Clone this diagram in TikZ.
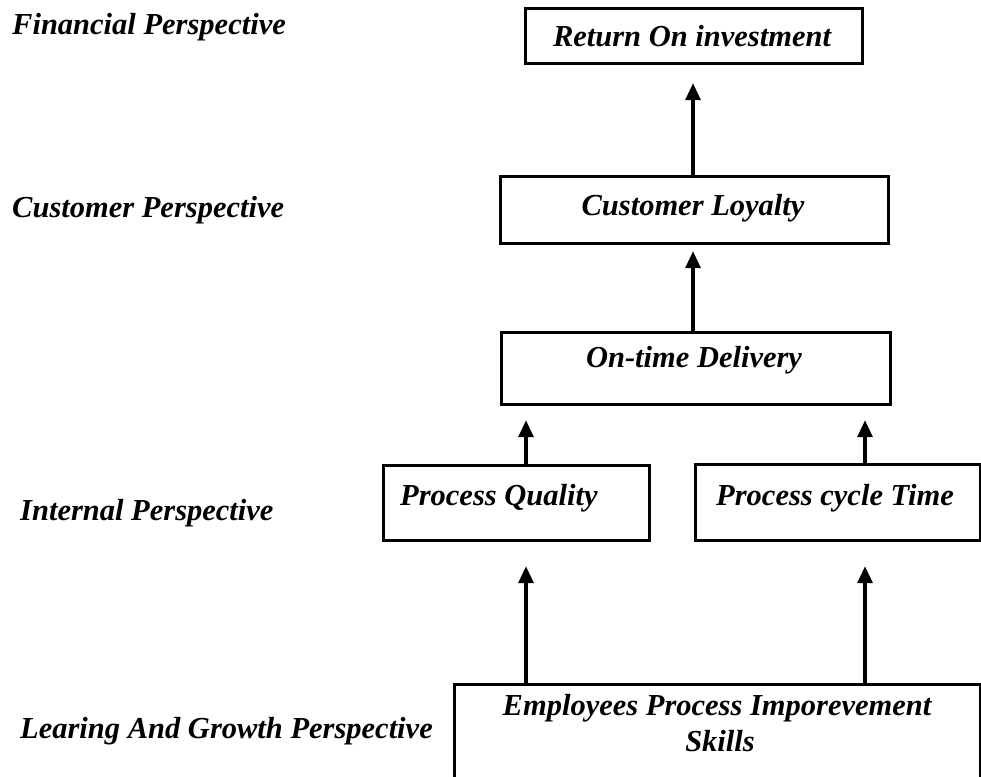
\documentclass[tikz,border=0pt]{standalone}
\usepackage{fontspec}
\setmainfont{Liberation Serif}
\usetikzlibrary{arrows.meta}

\begin{document}
\begin{tikzpicture}[x=1pt,y=-1pt,
  txt/.style={font=\fontsize{30.5}{36}\selectfont\bfseries\itshape, inner sep=0pt},
  box/.style={draw, line width=3.2pt, rectangle, inner sep=0pt, anchor=north west},
  arr/.style={line width=3.2pt, -{Triangle[length=17pt,width=15pt]}}]
  \useasboundingbox (0,0) rectangle (981,776);

  % perspective labels on the left
  \node[txt, anchor=base west] (lfin)  at (12,35)  {Financial Perspective};
  \node[txt, anchor=base west] (lcus)  at (12,217) {Customer Perspective};
  \node[txt, anchor=base west] (lint)  at (20,520) {Internal Perspective};
  \node[txt, anchor=base west] (llrn)  at (20,738) {Learing And Growth Perspective};

  % boxes
  \node[box, minimum width=337, minimum height=55] (roi) at (524,7)   {};
  \node[box, minimum width=388, minimum height=67] (cl)  at (499,175) {};
  \node[box, minimum width=389, minimum height=72] (od)  at (500,331) {};
  \node[box, minimum width=266, minimum height=75] (pq)  at (382,464) {};
  \node[box, minimum width=285, minimum height=76] (pct) at (694,463) {};
  \node[box, minimum width=526, minimum height=110] (emp) at (453,683) {};

  % box texts
  \node[txt, anchor=base] (troi) at (692,47)  {Return On investment};
  \node[txt, anchor=base] (tcl)  at (693,215) {Customer Loyalty};
  \node[txt, anchor=base] (tod)  at (694,367) {On-time Delivery};
  \node[txt, anchor=base west] (tpq)  at (400,505) {Process Quality};
  \node[txt, anchor=base west] (tpct) at (716,505) {Process cycle Time};
  \node[txt, anchor=base] (temp1) at (717,715) {Employees Process Imporevement};
  \node[txt, anchor=base] (temp2) at (720,751) {Skills};

  % columns of the arrows
  \coordinate (mx) at (693,0);
  \coordinate (qx) at (526,0);
  \coordinate (tx) at (865,0);

  % connectors
  \draw[arr, shorten >=18pt] (cl.north -| mx) -- (roi.south -| mx);
  \draw[arr, shorten >=6pt]  (od.north -| mx) -- (cl.south -| mx);
  \draw[arr, shorten >=14pt] (pq.north -| qx) -- (od.south -| qx);
  \draw[arr, shorten >=14pt] (pct.north -| tx) -- (od.south -| tx);
  \draw[arr, shorten >=24pt] (emp.north -| qx) -- (pq.south -| qx);
  \draw[arr, shorten >=24pt] (emp.north -| tx) -- (pct.south -| tx);
\end{tikzpicture}
\end{document}
